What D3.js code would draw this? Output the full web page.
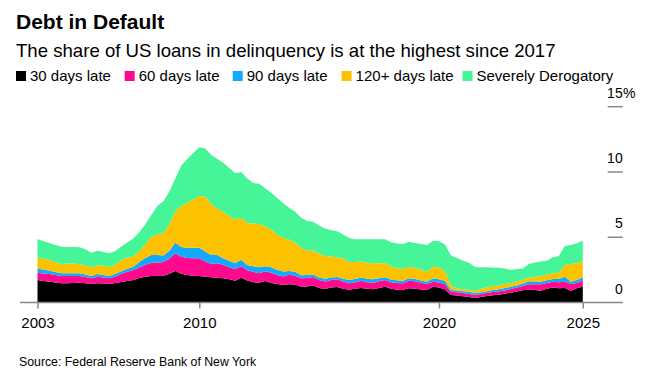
<!DOCTYPE html>
<html><head><meta charset="utf-8">
<script src="https://cdn.jsdelivr.net/npm/d3@7/dist/d3.min.js"></script>
<style>
body{margin:0;background:#fff}
svg{display:block;font-family:"Liberation Sans",Arial,Helvetica,sans-serif}
</style>
</head><body>
<svg id="chart" width="666" height="388"></svg>
<script>
const quarters = [
"2003Q1","2003Q2","2003Q3","2003Q4","2004Q1","2004Q2","2004Q3","2004Q4",
"2005Q1","2005Q2","2005Q3","2005Q4","2006Q1","2006Q2","2006Q3","2006Q4",
"2007Q1","2007Q2","2007Q3","2007Q4","2008Q1","2008Q2","2008Q3","2008Q4",
"2009Q1","2009Q2","2009Q3","2009Q4","2010Q1","2010Q2","2010Q3","2010Q4",
"2011Q1","2011Q2","2011Q3","2011Q4","2012Q1","2012Q2","2012Q3","2012Q4",
"2013Q1","2013Q2","2013Q3","2013Q4","2014Q1","2014Q2","2014Q3","2014Q4",
"2015Q1","2015Q2","2015Q3","2015Q4","2016Q1","2016Q2","2016Q3","2016Q4",
"2017Q1","2017Q2","2017Q3","2017Q4","2018Q1","2018Q2","2018Q3","2018Q4",
"2019Q1","2019Q2","2019Q3","2019Q4","2020Q1","2020Q2","2020Q3","2020Q4",
"2021Q1","2021Q2","2021Q3","2021Q4","2022Q1","2022Q2","2022Q3","2022Q4",
"2023Q1","2023Q2","2023Q3","2023Q4","2024Q1","2024Q2","2024Q3","2024Q4",
"2025Q1","2025Q2","2025Q3","2025Q4"];

const late30 = [1.72,1.65,1.59,1.53,1.47,1.48,1.50,1.52,1.48,1.42,
1.47,1.45,1.42,1.50,1.58,1.65,1.72,1.88,1.98,2.03,
2.03,2.03,2.20,2.41,2.20,2.10,2.05,2.03,1.98,1.93,
1.90,1.85,1.78,1.67,1.90,1.68,1.55,1.52,1.65,1.50,
1.42,1.34,1.40,1.38,1.20,1.22,1.30,1.12,1.03,1.15,
1.18,1.05,0.97,1.05,1.12,1.05,1.01,1.12,1.21,1.05,
0.98,0.96,1.09,1.05,1.00,0.96,1.21,1.15,1.00,0.57,
0.53,0.47,0.42,0.35,0.42,0.50,0.56,0.60,0.67,0.75,
0.85,0.93,1.00,0.95,0.90,1.05,1.15,1.10,1.12,0.90,
1.09,1.21];
const late60 = [0.56,0.58,0.59,0.57,0.56,0.55,0.53,0.51,0.47,0.43,
0.51,0.47,0.43,0.50,0.62,0.70,0.77,0.80,0.92,1.02,
1.02,1.07,1.15,1.36,1.30,1.30,1.34,1.36,1.17,1.02,
1.10,1.05,0.92,0.90,0.88,0.80,0.80,0.72,0.75,0.78,
0.68,0.66,0.72,0.67,0.65,0.66,0.65,0.60,0.57,0.57,
0.60,0.55,0.51,0.51,0.54,0.51,0.51,0.50,0.51,0.50,
0.52,0.51,0.58,0.57,0.52,0.46,0.38,0.38,0.40,0.26,
0.26,0.25,0.24,0.22,0.24,0.25,0.24,0.26,0.25,0.28,
0.30,0.34,0.40,0.45,0.49,0.45,0.44,0.45,0.47,0.52,
0.41,0.46];
const late90 = [0.31,0.29,0.26,0.24,0.21,0.21,0.21,0.21,0.19,0.18,
0.20,0.18,0.18,0.20,0.20,0.23,0.25,0.42,0.50,0.59,
0.59,0.50,0.60,0.81,0.75,0.80,0.81,0.81,0.75,0.69,
0.64,0.49,0.50,0.43,0.50,0.40,0.43,0.46,0.38,0.42,
0.40,0.38,0.30,0.30,0.23,0.22,0.19,0.20,0.22,0.20,
0.18,0.22,0.25,0.24,0.26,0.26,0.26,0.24,0.21,0.21,
0.20,0.20,0.18,0.18,0.16,0.17,0.26,0.25,0.25,0.13,
0.13,0.14,0.17,0.13,0.12,0.11,0.15,0.16,0.19,0.17,
0.15,0.18,0.22,0.20,0.20,0.20,0.21,0.25,0.39,0.17,
0.22,0.26];
const late120 = [0.84,0.83,0.82,0.76,0.71,0.74,0.76,0.69,0.71,0.67,
0.69,0.70,0.71,0.70,0.85,0.87,0.81,0.85,1.05,1.40,
1.59,1.70,2.05,2.42,3.15,3.45,3.70,3.96,4.20,3.91,
3.56,3.56,3.40,3.35,3.22,3.22,3.27,3.30,3.07,2.90,
2.70,2.57,2.38,2.25,2.12,1.87,1.84,1.83,1.74,1.60,
1.49,1.57,1.35,1.30,1.23,1.23,1.22,1.14,1.07,1.02,
0.92,0.89,0.89,0.86,0.82,0.77,0.89,0.90,0.75,0.34,
0.17,0.16,0.15,0.18,0.27,0.30,0.30,0.30,0.31,0.30,
0.30,0.30,0.28,0.38,0.44,0.45,0.45,0.48,0.89,1.36,
1.28,1.27];
const severe = [1.44,1.35,1.29,1.30,1.33,1.28,1.25,1.30,1.23,1.12,
1.10,1.07,1.03,1.05,1.05,1.15,1.35,1.45,1.55,1.66,
2.17,2.45,2.50,2.50,3.10,3.35,3.55,3.73,3.70,3.75,
3.80,3.75,3.70,3.55,3.50,3.40,3.10,3.10,2.90,2.80,
2.80,2.65,2.45,2.35,2.30,2.28,2.21,2.15,2.09,2.03,
2.00,1.81,1.87,1.75,1.70,1.80,1.84,1.84,1.84,1.84,
1.90,1.92,1.92,1.89,1.98,2.04,2.00,2.02,2.05,2.30,
2.31,2.18,2.07,1.84,1.65,1.54,1.43,1.34,1.18,0.99,
0.97,0.85,1.05,1.09,1.12,1.05,1.21,1.28,1.46,1.45,
1.54,1.54];

const seriesNames = ["30 days late","60 days late","90 days late","120+ days late","Severely Derogatory"];
const seriesColors = ["#000000","#ff0a8c","#12a9ff","#fcc200","#45f597"];
const yTicks = [0,5,10,15];
const xTickLabels = ["2003","2010","2020","2025"];

const seriesValues = [late30, late60, late90, late120, severe];
// quarter-end time as decimal year
const qTime = q => +q.slice(0,4) + (+q.slice(5))/4;
const xTickValues = [qTime(quarters[0]), 2010, 2020, qTime(quarters[quarters.length-1])];

const rows = quarters.map((q,i) => {
  const r = {t: qTime(q)};
  seriesNames.forEach((n,k) => r[n] = seriesValues[k][i]);
  return r;
});

const svg = d3.select("#chart");
const x = d3.scaleLinear().domain([qTime(quarters[0]), qTime(quarters[quarters.length-1])]).range([37.5, 582.8]);
const y = d3.scaleLinear().domain([0,15]).range([302.5, 106.7]);

const stack = d3.stack().keys(seriesNames);
const layers = stack(rows);
const area = d3.area().x(d => x(d.data.t)).y0(d => y(d[0])).y1(d => y(d[1])).curve(d3.curveLinear);

svg.append("g").selectAll("path").data(layers).join("path")
  .attr("d", area).attr("fill", (d,i) => seriesColors[i]);

// Title, subtitle
svg.append("text").attr("x",16).attr("y",29).attr("font-size",21).attr("font-weight","bold")
  .attr("fill","#000").text("Debt in Default");
svg.append("text").attr("x",16).attr("y",57).attr("font-size",18.6).attr("fill","#000")
  .text("The share of US loans in delinquency is at the highest since 2017");

// Legend
const legendX = [16, 124.7, 232.7, 341.6, 462.5];
const lg = svg.append("g").selectAll("g").data(seriesNames).join("g")
  .attr("transform",(d,i)=>`translate(${legendX[i]},0)`);
lg.append("rect").attr("x",0).attr("y",71).attr("width",10).attr("height",10).attr("fill",(d,i)=>seriesColors[i]);
lg.append("text").attr("x",14).attr("y",81).attr("font-size",15).attr("fill","#000").text(d=>d);

// X baseline
svg.append("line").attr("x1",20).attr("x2",622.7).attr("y1",y(0)).attr("y2",y(0))
  .attr("stroke","#888").attr("stroke-width",1.5);

// X axis
const xAxis = d3.axisBottom(x).tickValues(xTickValues).tickFormat((d,i)=>xTickLabels[i])
  .tickSizeInner(6).tickSizeOuter(0).tickPadding(9);
const gx = svg.append("g").attr("transform",`translate(0,${y(0)})`).call(xAxis);
gx.select(".domain").remove();
gx.selectAll(".tick line").attr("stroke","#888").attr("stroke-width",1.5);
gx.selectAll(".tick text").attr("font-size",15).attr("fill","#000").attr("font-family",null);

// Y ticks on the right
const gy = svg.append("g");
yTicks.forEach(v => {
  if (v !== 0) gy.append("line").attr("x1",607.7).attr("x2",622.7).attr("y1",y(v)).attr("y2",y(v))
    .attr("stroke","#888").attr("stroke-width",1.5);
  gy.append("text").attr("x",622.7).attr("y",y(v)-9).attr("text-anchor","end")
    .attr("font-size",14).attr("fill","#000").text(v);
});
gy.append("text").attr("x",622.9).attr("y",y(15)-9).attr("font-size",14).attr("fill","#000").text("%");

// Source
svg.append("text").attr("x",19).attr("y",366).attr("font-size",12.3).attr("fill","#000")
  .text("Source: Federal Reserve Bank of New York");
</script>
</body></html>
